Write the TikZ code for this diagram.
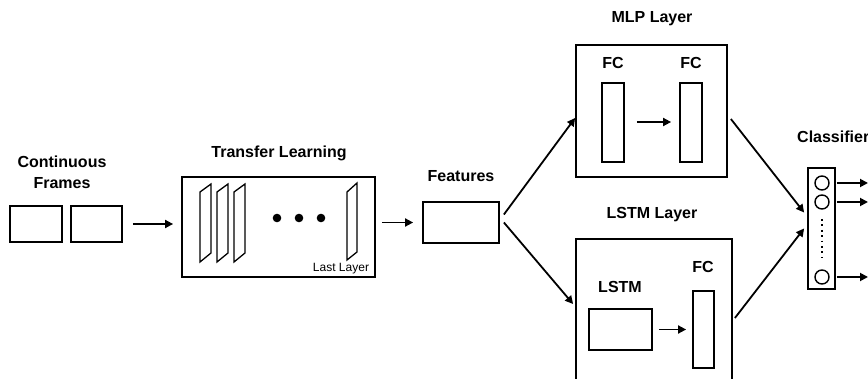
\documentclass[tikz,border=0pt]{standalone}
\usepackage{fontspec}
\setmainfont{Liberation Sans}
\usetikzlibrary{arrows.meta}
\begin{document}
\begin{tikzpicture}[x=1pt,y=-1pt,
  box/.style={draw,line width=1.8pt,rectangle,inner sep=0pt,fill=white},
  ttl/.style={font=\fontsize{16}{18}\selectfont\bfseries,anchor=base,inner sep=0pt},
  conn/.style={line width=1.8pt},
  arr/.style={conn,-{Triangle[length=8pt,width=8pt]}},
  layer/.style={line width=1.3pt,fill=white}]
\useasboundingbox (0,0) rectangle (868,379);
% Continuous frames
\node[ttl] (cf1) at (62,168) {Continuous};
\node[ttl] (cf2) at (62,189) {Frames};
\node[box,minimum width=52pt,minimum height=36pt] (f1) at (36,224) {};
\node[box,minimum width=51pt,minimum height=36pt] (f2) at (96.5,224) {};
% Transfer learning
\node[ttl] (tlt) at (279,158) {Transfer Learning};
\node[box,minimum width=193pt,minimum height=100pt] (tl) at (278.5,227) {};
\foreach \dx in {0,17,34}{
  \draw[layer] (200+\dx,192) -- (211+\dx,184) -- (211+\dx,253) -- (200+\dx,262) -- cycle;
}
\draw[layer] (347,192) -- (357,183) -- (357,252) -- (347,260) -- cycle;
\foreach \x in {277,299,321}{\fill (\x,218) circle (4.3pt);}
\node[anchor=base,inner sep=0pt,font=\fontsize{12}{14}\selectfont] (ll) at (341,272) {Last Layer};
% Features
\node[ttl] (ft) at (461,182) {Features};
\node[box,minimum width=76pt,minimum height=41pt] (feat) at (461,222.5) {};
% MLP
\node[ttl] (mlpt) at (652,23) {MLP Layer};
\node[box,minimum width=151pt,minimum height=132pt] (mlp) at (651.5,111) {};
\node[ttl] (fc1t) at (613,69) {FC};
\node[ttl] (fc2t) at (691,69) {FC};
\node[box,minimum width=22pt,minimum height=79pt] (fc1) at (613,122.5) {};
\node[box,minimum width=22pt,minimum height=79pt] (fc2) at (691,122.5) {};
% LSTM
\node[ttl] (lstmt) at (652,219) {LSTM Layer};
\node[box,minimum width=156pt,minimum height=150pt] (lstmbox) at (654,314) {};
\node[ttl] (lstml) at (620,293) {LSTM};
\node[ttl] (fc3t) at (703,273) {FC};
\node[box,minimum width=63pt,minimum height=41pt] (lstm) at (620.5,329.5) {};
\node[box,minimum width=21pt,minimum height=77pt] (fc3) at (703.5,329.5) {};
% Classifier
\node[ttl,anchor=base west] (clst) at (797,143) {Classifier};
\node[box,minimum width=27pt,minimum height=121pt] (cls) at (821.5,228.5) {};
\node[draw,circle,line width=1.4pt,minimum size=14pt,inner sep=0pt] (c1) at (822,183) {};
\node[draw,circle,line width=1.4pt,minimum size=14pt,inner sep=0pt] (c2) at (822,202) {};
\node[draw,circle,line width=1.4pt,minimum size=14pt,inner sep=0pt] (c3) at (822,277) {};
\draw[line width=1.8pt,dash pattern=on 1.8pt off 3.6pt] (822,219) -- (822,258);
\coordinate (o1) at (868,183);
\coordinate (o2) at (868,202);
\coordinate (o3) at (868,277);
% connectors
\draw[arr,shorten <=10pt,shorten >=8pt] (f2.east) -- (f2.east -| tl.west);
\draw[arr,shorten <=6pt,shorten >=9pt] (tl.east |- feat.west) -- (feat.west);
\draw[arr] ([xshift=4pt,yshift=8pt]feat.east) -- ([yshift=-7pt]mlp.west);
\draw[arr] ([xshift=4pt]feat.east) -- ([xshift=-2pt,yshift=10pt]lstmbox.west);
\draw[arr,shorten <=12pt,shorten >=8pt] (fc1.east |- 0,122) -- (fc2.west |- 0,122);
\draw[arr,shorten <=6pt,shorten >=6pt] (lstm.east) -- (lstm.east -| fc3.west);
\draw[arr] ([xshift=3pt,yshift=-8pt]mlp.east) -- ([xshift=-3pt,yshift=16pt]cls.west);
\draw[arr] ([xshift=2pt,yshift=-4pt]lstmbox.east) -- ([xshift=-3pt]cls.west);
\draw[arr,shorten <=1pt] (c1 -| cls.east) -- (o1);
\draw[arr,shorten <=1pt] (c2 -| cls.east) -- (o2);
\draw[arr,shorten <=1pt] (c3 -| cls.east) -- (o3);
\end{tikzpicture}
\end{document}
